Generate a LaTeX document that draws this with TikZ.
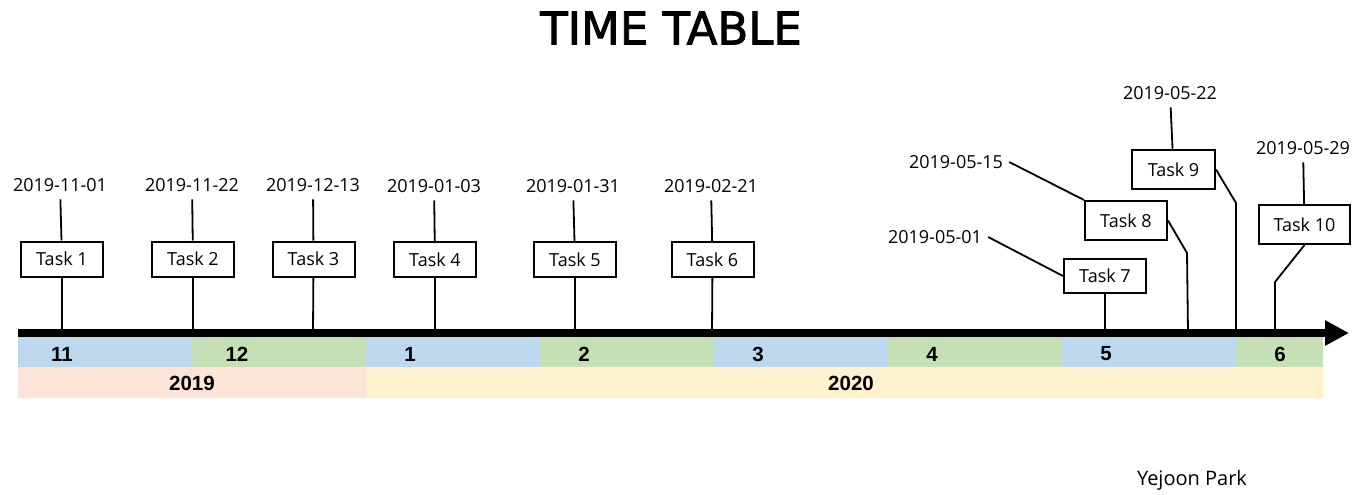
\documentclass[tikz,border=0pt]{standalone}
\usepackage{fontspec}
\setmainfont{Open Sans}
\newfontfamily\titlefont[FakeBold=2]{DejaVu Sans}
\newfontfamily\bandfont{Liberation Sans}
\usetikzlibrary{arrows.meta}
\definecolor{monthblue}{HTML}{BDD7EE}
\definecolor{monthgreen}{HTML}{C5E0B4}
\definecolor{yearpeach}{HTML}{FCE4D6}
\definecolor{yearyellow}{HTML}{FFF2CC}
\begin{document}
\begin{tikzpicture}[x=1pt,y=-1pt,
  datelbl/.style={font=\fontsize{18}{20}\selectfont, inner xsep=6pt, inner ysep=7.5pt},
  taskbox/.style={draw, line width=2pt, fill=white, minimum width=82pt,
    minimum height=35pt, inner sep=0pt, font=\fontsize{18}{20}\selectfont},
  tallbox/.style={taskbox, minimum height=39pt},
  link/.style={line width=1.8pt},
  monthlbl/.style={font=\bandfont\bfseries\fontsize{20.5}{22}\selectfont},
  yearlbl/.style={font=\bandfont\bfseries\fontsize{20.5}{22}\selectfont}]
\useasboundingbox (0,0) rectangle (1365,495);

% title
\node[font=\titlefont\fontsize{45}{48}\selectfont] (title) at (671,28) {TIME TABLE};

% month band
\fill[monthblue]  (18,337)   rectangle (192,367);
\fill[monthgreen] (192,337)  rectangle (366,367);
\fill[monthblue]  (366,337)  rectangle (540,367);
\fill[monthgreen] (540,337)  rectangle (713,367);
\fill[monthblue]  (713,337)  rectangle (888,367);
\fill[monthgreen] (888,337)  rectangle (1062,367);
\fill[monthblue]  (1062,337) rectangle (1236,367);
\fill[monthgreen] (1236,337) rectangle (1323,367);
% year band
\fill[yearpeach]  (18,367)  rectangle (366,398);
\fill[yearyellow] (366,367) rectangle (1323,398);

\node[monthlbl] (m11) at (62,354)   {11};
\node[monthlbl] (m12) at (237,354)  {12};
\node[monthlbl] (m1)  at (410,354)  {1};
\node[monthlbl] (m2)  at (584,354)  {2};
\node[monthlbl] (m3)  at (758,354)  {3};
\node[monthlbl] (m4)  at (932,354)  {4};
\node[monthlbl] (m5)  at (1106,354) {5};
\node[monthlbl] (m6)  at (1280,354) {6};
\node[yearlbl] (y2019) at (192,383.5) {2019};
\node[yearlbl] (y2020) at (851,383.5) {2020};

% points on the axis
\coordinate (axL) at (18,333);
\coordinate (axR) at (1349,333);
\foreach \n/\x in {1/62,2/193,3/313,4/435,5/575,6/712,7/1105,8/1188,9/1236,10/1275}
  \coordinate (a\n) at (\x,333);

% date labels
\node[datelbl] (d1)  at (60,185)   {2019-11-01};
\node[datelbl] (d2)  at (192,185)  {2019-11-22};
\node[datelbl] (d3)  at (313,185)  {2019-12-13};
\node[datelbl] (d4)  at (434,186)  {2019-01-03};
\node[datelbl] (d5)  at (573,186)  {2019-01-31};
\node[datelbl] (d6)  at (711,186)  {2019-02-21};
\node[datelbl] (d7)  at (935,237)  {2019-05-01};
\node[datelbl] (d8)  at (956,162)  {2019-05-15};
\node[datelbl] (d9)  at (1170,93)  {2019-05-22};
\node[datelbl] (d10) at (1303,148) {2019-05-29};

% task boxes
\node[taskbox] (t1) at (62,259)    {Task 1};
\node[taskbox] (t2) at (193,259)   {Task 2};
\node[taskbox] (t3) at (313.5,259) {Task 3};
\node[taskbox] (t4) at (435,259.5) {Task 4};
\node[taskbox] (t5) at (575,259.5) {Task 5};
\node[taskbox] (t6) at (712.5,259.5) {Task 6};
\node[taskbox, minimum height=34pt] (t7) at (1105,276) {Task 7};
\node[tallbox] (t8) at (1126,220.5) {Task 8};
\node[tallbox, minimum width=83pt] (t9) at (1173.5,169.5) {Task 9};
\node[tallbox, minimum width=91pt] (t10) at (1304.5,224.5) {Task 10};

% bends of the slanted connectors
\coordinate (b8)  at (1187,253);
\coordinate (b9)  at (1236,203);
\coordinate (b10) at (1275,282);

% connectors
\foreach \n in {1,...,6} {
  \draw[link] (d\n) -- (t\n);
  \draw[link] (t\n) -- (a\n);
}
\draw[link] (d7.east) -- (t7.west);
\draw[link] (t7) -- (a7);
\draw[link] (d8.east) -- (t8.north west);
\draw[link] (t8.east) -- (b8) -- (a8);
\draw[link] (d9) -- (t9);
\draw[link] (t9.east) -- (b9) -- (a9);
\draw[link] (d10) -- (t10);
\draw[link] (t10.south) -- (b10) -- (a10);

% time axis
\draw[line width=8pt, -{Triangle[length=24pt,width=24pt]}] (axL) -- (axR);

% author
\node[font=\fontsize{20}{22}\selectfont, anchor=base] (author) at (1192,485) {Yejoon Park};
\end{tikzpicture}
\end{document}
